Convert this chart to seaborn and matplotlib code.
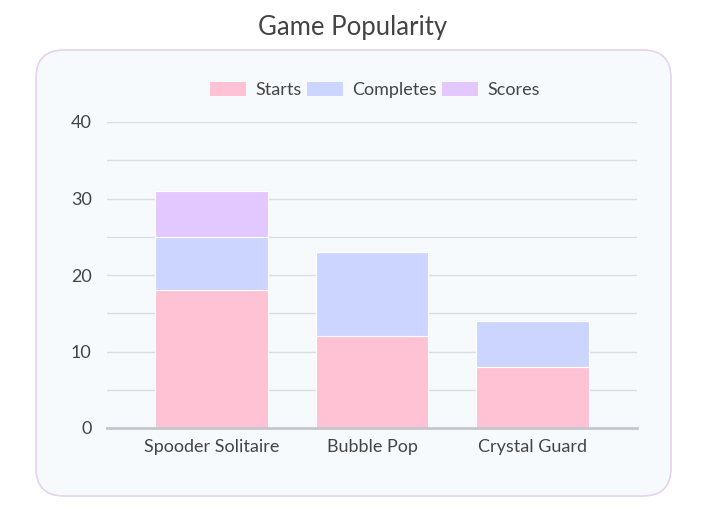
import matplotlib.pyplot as plt
import matplotlib.patches as mpatches
from matplotlib.transforms import IdentityTransform
import numpy as np
import pandas as pd
import seaborn as sns

games = ['Spooder Solitaire', 'Bubble Pop', 'Crystal Guard']
starts = [18, 12, 8]
completes = [7, 11, 6]
scores = [6, 0, 0]

series_names = ['Starts', 'Completes', 'Scores']
series_colors = ['#FFC2D4', '#CCD5FF', '#E2C8FF']

df = pd.DataFrame({'game': games, 'Starts': starts, 'Completes': completes, 'Scores': scores})

sns.set_theme(style='white')
plt.rcParams['font.family'] = ['Lato', 'DejaVu Sans']

fig = plt.figure(figsize=(7.06, 5.18), dpi=100)
fig.patch.set_facecolor('white')

# rounded panel behind the chart (pixel coords)
panel = mpatches.FancyBboxPatch((36, 22), 635, 446, boxstyle='round,pad=0,rounding_size=28',
                                transform=IdentityTransform(), facecolor='#F7FAFD',
                                edgecolor='#E6D3EC', linewidth=1.2, zorder=-5)
fig.patches.append(panel)

ax = fig.add_axes([107 / 706, 90 / 518, 530 / 706, 306 / 518])
ax.set_facecolor('none')
ax.set_zorder(2)

bottom = np.zeros(len(games))
for name, col in zip(series_names, series_colors):
    sns.barplot(data=df, x='game', y=name, color=col, saturation=1, width=0.7, bottom=bottom,
                edgecolor='white', linewidth=0.8, ax=ax, zorder=3)
    bottom = bottom + df[name].to_numpy()

ax.set_xlim(-0.65, 2.65)
ax.set_ylim(0, 40)
ax.set_yticks([0, 10, 20, 30, 40])
ax.set_yticks([5, 15, 25, 35], minor=True)
ax.grid(axis='y', which='both', color='#DADDE2', linewidth=1, zorder=0)
ax.set_axisbelow(True)
ax.tick_params(axis='both', which='both', length=0, labelsize=13, labelcolor='#444444')
ax.tick_params(axis='y', pad=11)
ax.tick_params(axis='x', pad=8)
ax.set_xlabel('')
ax.set_ylabel('')
for s in ['top', 'right', 'left']:
    ax.spines[s].set_visible(False)
ax.spines['bottom'].set_color('#C4C7CC')
ax.spines['bottom'].set_linewidth(2)
ax.spines['bottom'].set_zorder(4)

handles = [mpatches.Patch(facecolor=c, edgecolor='none', label=n) for n, c in zip(series_names, series_colors)]
fig.legend(handles=handles, loc='center', bbox_to_anchor=(375 / 706, 1 - 90 / 518), ncol=3,
           frameon=False, fontsize=13, handlelength=2.0, handleheight=0.85,
           handletextpad=0.5, columnspacing=0.3, labelcolor='#444444')

fig.text(353 / 706, 1 - 27 / 518, 'Game Popularity', ha='center', va='center',
         fontsize=18.5, color='#444444')

plt.savefig('out.png', dpi=100)
